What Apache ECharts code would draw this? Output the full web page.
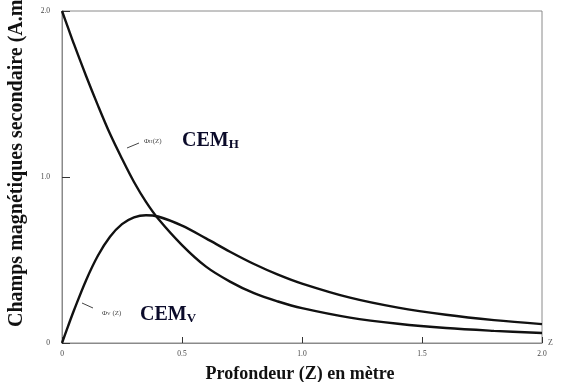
<!DOCTYPE html>
<html>
<head>
<meta charset="utf-8">
<script src="https://cdn.jsdelivr.net/npm/echarts@6/dist/echarts.min.js"></script>
<style>
  html, body { margin: 0; padding: 0; background: #fff; }
  #chart { width: 566px; height: 382px; }
</style>
</head>
<body>
<div id="chart"></div>
<script>
// profondeur z (m) et réponses
const depths = [0, 0.025, 0.05, 0.1, 0.15, 0.2, 0.25, 0.3, 0.35, 0.4, 0.5, 0.6, 0.7, 0.8, 0.9, 1.0, 1.2, 1.4, 1.6, 1.8, 2.0]
const cemH = [2.0, 1.90, 1.80, 1.61, 1.43, 1.26, 1.11, 0.97, 0.85, 0.75, 0.59, 0.46, 0.37, 0.30, 0.25, 0.21, 0.153, 0.116, 0.09, 0.073, 0.06]
const cemV = [0, 0.10, 0.197, 0.377, 0.527, 0.64, 0.716, 0.757, 0.770, 0.762, 0.707, 0.630, 0.55, 0.476, 0.412, 0.358, 0.273, 0.213, 0.17, 0.138, 0.114]
const xTicks = ['0', '0.5', '1.0', '1.5', '2.0']
const yTicks = ['0', '1.0', '2.0']

const serif = '"Liberation Serif", "DejaVu Serif", serif'
const axisGray = '#8a8a8a'

const chart = echarts.init(document.getElementById('chart'))

function pairs(ys) {
  return depths.map((z, i) => [z, ys[i]])
}

chart.setOption({
  animation: false,
  grid: {
    left: 62, right: 24, top: 11, bottom: 39,
    show: true, borderColor: axisGray, borderWidth: 1,
  },
  xAxis: {
    type: 'value',
    min: 0, max: 2, interval: 0.5,
    name: 'Z',
    nameGap: 6,
    nameTextStyle: { fontFamily: serif, fontSize: 8, color: '#555', padding: [8, 0, 0, 0] },
    axisLine: { lineStyle: { color: axisGray, width: 1 } },
    axisTick: { inside: true, length: 6, lineStyle: { color: '#333' } },
    splitLine: { show: false },
    axisLabel: {
      margin: 7, fontFamily: serif, fontSize: 7.5, color: '#444',
      formatter: v => xTicks[Math.round(v / 0.5)],
    },
  },
  yAxis: {
    type: 'value',
    min: 0, max: 2, interval: 1,
    axisLine: { lineStyle: { color: axisGray, width: 1 } },
    axisTick: { inside: true, length: 8, lineStyle: { color: '#333' } },
    splitLine: { show: false },
    axisLabel: {
      margin: 12, fontFamily: serif, fontSize: 7.5, color: '#444',
      formatter: v => yTicks[Math.round(v)],
    },
  },
  series: [
    {
      name: 'CEMH',
      type: 'line',
      data: pairs(cemH),
      smooth: 0.35,
      symbol: 'none',
      lineStyle: { color: '#111', width: 2.4 },
    },
    {
      name: 'CEMV',
      type: 'line',
      data: pairs(cemV),
      smooth: 0.35,
      symbol: 'none',
      lineStyle: { color: '#111', width: 2.4 },
    },
  ],
  graphic: [
    {
      type: 'text',
      x: 17, y: 327,
      rotation: Math.PI / 2,
      style: {
        text: 'Champs magnétiques secondaire (A.m⁻¹)',
        font: 'bold 20px ' + serif,
        fill: '#111',
        align: 'left', verticalAlign: 'middle',
      },
    },
    {
      type: 'text',
      x: 300, y: 374,
      style: {
        text: 'Profondeur (Z) en mètre',
        font: 'bold 18px ' + serif,
        fill: '#111',
        align: 'center', verticalAlign: 'middle',
      },
    },
    // annotations CEM_H
    {
      type: 'line',
      shape: { x1: 127, y1: 148, x2: 139, y2: 143 },
      style: { stroke: '#444', lineWidth: 1 },
    },
    {
      type: 'text',
      x: 144, y: 141,
      style: {
        text: '{p|Φ}{s|H}{p|(Z)}',
        verticalAlign: 'middle',
        rich: {
          p: { font: '7px ' + serif, fill: '#444' },
          s: { font: '5px ' + serif, fill: '#444', verticalAlign: 'bottom' },
        },
      },
    },
    {
      type: 'text',
      x: 182, y: 141,
      style: {
        text: '{a|CEM}{b|H}',
        verticalAlign: 'middle',
        rich: {
          a: { font: 'bold 20px ' + serif, fill: '#0b0b2a' },
          b: { font: 'bold 13px ' + serif, fill: '#0b0b2a', padding: [8, 0, 0, 0] },
        },
      },
    },
    // annotations CEM_V
    {
      type: 'line',
      shape: { x1: 82, y1: 303, x2: 93, y2: 308 },
      style: { stroke: '#444', lineWidth: 1 },
    },
    {
      type: 'text',
      x: 102, y: 313,
      style: {
        text: '{p|Φ}{s|V}{p| (Z)}',
        verticalAlign: 'middle',
        rich: {
          p: { font: '7px ' + serif, fill: '#444' },
          s: { font: '5px ' + serif, fill: '#444', verticalAlign: 'bottom' },
        },
      },
    },
    {
      type: 'text',
      x: 140, y: 315,
      style: {
        text: '{a|CEM}{b|V}',
        verticalAlign: 'middle',
        rich: {
          a: { font: 'bold 20px ' + serif, fill: '#0b0b2a' },
          b: { font: 'bold 13px ' + serif, fill: '#0b0b2a', padding: [8, 0, 0, 0] },
        },
      },
    },
  ],
})

window.addEventListener('resize', () => chart.resize())
</script>
</body>
</html>
